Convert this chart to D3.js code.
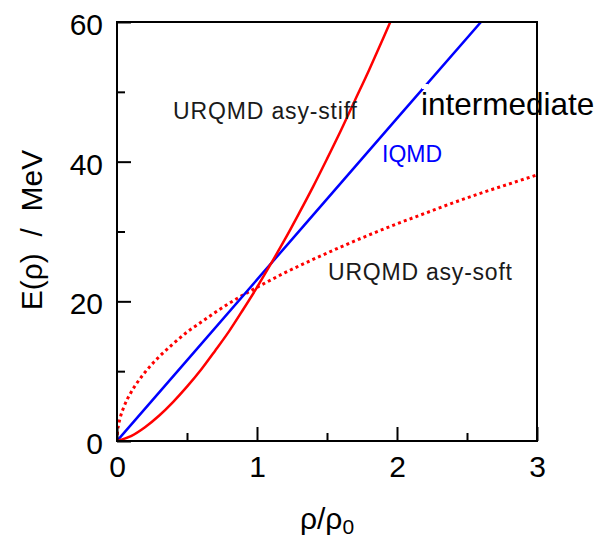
<!DOCTYPE html>
<html>
<head>
<meta charset="utf-8">
<script src="https://cdn.jsdelivr.net/npm/d3@7"></script>
<style>
  body { margin: 0; background: #fff; }
  text { font-family: "Liberation Sans", Arial, Helvetica, sans-serif; }
</style>
</head>
<body>
<div id="chart"></div>
<script>
let width = 598;
let height = 537;

// plot box in pixels
let boxLeft = 117, boxRight = 537, boxTop = 22, boxBottom = 441;

// values (rho/rho0, E in MeV)
let stiffX = [0, 0.1, 0.2, 0.3, 0.4, 0.5, 0.6, 0.7, 0.8, 0.9, 1.0, 1.1, 1.2, 1.3, 1.4, 1.5, 1.6, 1.7, 1.8, 1.9, 2.0];
let stiffY = [0, 0.7, 1.97, 3.61, 5.57, 7.78, 10.2, 12.9, 15.7, 18.8, 22.0, 25.4, 28.9, 32.6, 36.4, 40.4, 44.5, 48.8, 53.1, 57.6, 62.2];

let softX = [0, 0.005, 0.01, 0.02, 0.05, 0.1, 0.15, 0.2, 0.3, 0.4, 0.5, 0.6, 0.7, 0.8, 0.9, 1.0, 1.2, 1.4, 1.6, 1.8, 2.0, 2.2, 2.4, 2.6, 2.8, 3.0];
let softY = [0, 1.56, 2.2, 3.11, 4.92, 6.96, 8.52, 9.84, 12.05, 13.9, 15.6, 17.0, 18.4, 19.7, 20.9, 22.0, 24.1, 26.0, 27.8, 29.5, 31.1, 32.6, 34.1, 35.5, 36.8, 38.1];

let iqmdX = [0, 1, 2, 2.6];
let iqmdY = [0, 23.1, 46.2, 60];

let xMajor = [0, 1, 2, 3];
let xMinor = [0.5, 1.5, 2.5];
let yMajor = [0, 20, 40, 60];
let yMinor = [10, 30, 50];

let svg = d3.select("#chart")
    .append("svg")
    .attr("width", width)
    .attr("height", height);

let x = d3.scaleLinear().domain([0, 3]).range([boxLeft, boxRight]);
let y = d3.scaleLinear().domain([0, 60]).range([boxBottom, boxTop]);

svg.append("clipPath").attr("id", "box")
    .append("rect")
    .attr("x", boxLeft).attr("y", boxTop)
    .attr("width", boxRight - boxLeft).attr("height", boxBottom - boxTop);

// build point lists from the arrays
function pts(xs, ys) {
    return xs.map(function(v, i) { return [v, ys[i]]; });
}

let line = d3.line()
    .x(function(d) { return x(d[0]); })
    .y(function(d) { return y(d[1]); })
    .curve(d3.curveMonotoneX);

let curves = svg.append("g").attr("clip-path", "url(#box)");

curves.append("path")
    .attr("d", line(pts(softX, softY)))
    .attr("fill", "none")
    .attr("stroke", "#ff0000")
    .attr("stroke-width", 3)
    .attr("stroke-dasharray", "3,3.2");

curves.append("path")
    .attr("d", line(pts(iqmdX, iqmdY)))
    .attr("fill", "none")
    .attr("stroke", "#0000ff")
    .attr("stroke-width", 2.5);

curves.append("path")
    .attr("d", line(pts(stiffX, stiffY)))
    .attr("fill", "none")
    .attr("stroke", "#ff0000")
    .attr("stroke-width", 2.5);

// axes, ticks pointing inwards
function styleAxis(g) {
    g.select(".domain").remove();
    g.selectAll("line").attr("stroke", "#000").attr("stroke-width", 2);
    g.attr("font-size", 30).attr("font-family", "'Liberation Sans', Arial, sans-serif");
    g.selectAll("text").attr("fill", "#000");
}

svg.append("g")
    .attr("transform", "translate(0," + boxBottom + ")")
    .call(d3.axisBottom(x).tickValues(xMajor).tickSize(-14).tickPadding(15).tickFormat(d3.format("d")))
    .call(styleAxis);

svg.append("g")
    .attr("transform", "translate(0," + boxBottom + ")")
    .call(d3.axisBottom(x).tickValues(xMinor).tickSize(-8).tickFormat(""))
    .call(styleAxis);

svg.append("g")
    .attr("transform", "translate(" + boxLeft + ",0)")
    .call(d3.axisLeft(y).tickValues(yMajor).tickSize(-14).tickPadding(14).tickFormat(d3.format("d")))
    .call(styleAxis)
    .selectAll("text").attr("dy", "0.42em");

svg.append("g")
    .attr("transform", "translate(" + boxLeft + ",0)")
    .call(d3.axisLeft(y).tickValues(yMinor).tickSize(-8).tickFormat(""))
    .call(styleAxis);

// frame
svg.append("rect")
    .attr("x", boxLeft).attr("y", boxTop)
    .attr("width", boxRight - boxLeft).attr("height", boxBottom - boxTop)
    .attr("fill", "none")
    .attr("stroke", "#000")
    .attr("stroke-width", 2);

// axis titles
let xt = svg.append("text")
    .attr("x", 327).attr("y", 529)
    .attr("text-anchor", "middle")
    .attr("font-size", 30);
xt.append("tspan").text("ρ/ρ");
xt.append("tspan").attr("font-size", 21).attr("dy", 5).text("0");

svg.append("text")
    .attr("transform", "translate(42,230) rotate(-90)")
    .attr("text-anchor", "middle")
    .attr("font-size", 30)
    .style("white-space", "pre")
    .text("E(ρ)  /  MeV");

// annotations
svg.append("text")
    .attr("x", 173).attr("y", 119)
    .attr("font-size", 23)
    .attr("fill", "#1a1a1a")
    .attr("textLength", 184)
    .text("URQMD asy-stiff");

svg.append("text")
    .attr("x", 328).attr("y", 280)
    .attr("font-size", 23)
    .attr("fill", "#1a1a1a")
    .attr("textLength", 184)
    .text("URQMD asy-soft");

svg.append("text")
    .attr("x", 382).attr("y", 162)
    .attr("font-size", 23)
    .attr("fill", "#0000ff")
    .text("IQMD");

svg.append("rect")
    .attr("x", 422).attr("y", 84)
    .attr("width", 6).attr("height", 5)
    .attr("fill", "#fff");

svg.append("text")
    .attr("x", 421).attr("y", 115)
    .attr("font-size", 31.5)
    .attr("fill", "#000")
    .text("intermediate");
</script>
</body>
</html>
